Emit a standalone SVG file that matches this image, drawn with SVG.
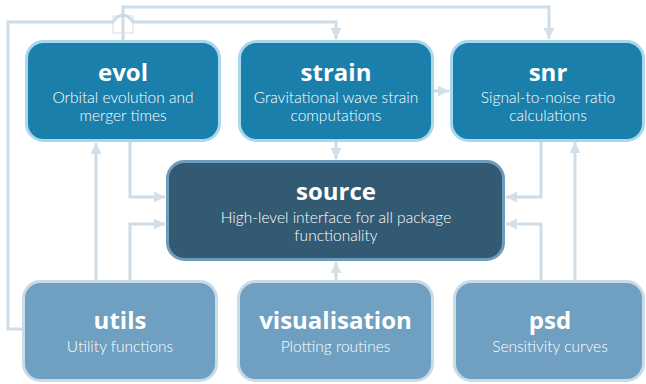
<svg xmlns="http://www.w3.org/2000/svg" width="646" height="384" viewBox="0 0 646 384">
<defs>
<marker id="arr" markerUnits="userSpaceOnUse" markerWidth="12" markerHeight="11" refX="11" refY="5.5" orient="auto">
<path d="M0,0 L11,5.5 L0,11 Z" fill="#d3e0ea"/>
</marker>
<style>
.top{fill:#1a7fab;stroke:#a7d8ee;stroke-width:3}
.mid{fill:#335a73;stroke:#6d9cbd;stroke-width:3}
.bot{fill:#6fa0c1;stroke:#c9dbe6;stroke-width:3}
.ttl{font-family:"Open Sans",Lato,sans-serif;font-weight:700;font-size:24px;fill:#fff;text-anchor:middle}
.sub{font-family:Lato,"Open Sans",sans-serif;font-weight:300;font-size:15.5px;fill:#fff;text-anchor:middle}
.ln{fill:none;stroke:#cddce7;stroke-width:3}
</style>
</defs>
<rect width="646" height="384" fill="#fff"/>
<g id="connectors">
<rect x="113" y="16" width="20" height="17" fill="#fff" stroke="#d9dde0" stroke-width="1"/>
<path class="ln" d="M123,41 V7 H549 V39" marker-end="url(#arr)"/>
<path class="ln" d="M22,329 H8 V22 H113 Q123,8 133,22 H336 V39" marker-end="url(#arr)"/>
<path class="ln" d="M130,141 V197 H165" marker-end="url(#arr)"/>
<path class="ln" d="M96,280 V143" marker-end="url(#arr)"/>
<path class="ln" d="M130,280 V224 H165" marker-end="url(#arr)"/>
<path class="ln" d="M336,141 V159" marker-end="url(#arr)"/>
<path class="ln" d="M434,91 H449" marker-end="url(#arr)"/>
<path class="ln" d="M541,141 V197 H506" marker-end="url(#arr)"/>
<path class="ln" d="M541,280 V224 H506" marker-end="url(#arr)"/>
<path class="ln" d="M575,280 V142" marker-end="url(#arr)"/>
<path class="ln" d="M336,280 V262" marker-end="url(#arr)"/>
</g>
<g id="evol">
<rect class="top" x="26.5" y="41.5" width="193" height="99" rx="17"/>
<text class="ttl" x="123" y="81">evol</text>
<text class="sub" x="123" y="103">Orbital evolution and</text>
<text class="sub" x="123" y="121">merger times</text>
</g>
<g id="strain">
<rect class="top" x="239.5" y="41.5" width="193" height="99" rx="17"/>
<text class="ttl" x="336" y="81">strain</text>
<text class="sub" x="336" y="103">Gravitational wave strain</text>
<text class="sub" x="336" y="121">computations</text>
</g>
<g id="snr">
<rect class="top" x="451.5" y="41.5" width="192" height="99" rx="17"/>
<text class="ttl" x="548" y="81">snr</text>
<text class="sub" x="548" y="103">Signal-to-noise ratio</text>
<text class="sub" x="548" y="121">calculations</text>
</g>
<g id="source">
<rect class="mid" x="167.5" y="161.5" width="336" height="98" rx="17"/>
<text class="ttl" x="336" y="200">source</text>
<text class="sub" x="336" y="223">High-level interface for all package</text>
<text class="sub" x="336" y="241">functionality</text>
</g>
<g id="utils">
<rect class="bot" x="23.5" y="281.5" width="193" height="99" rx="17"/>
<text class="ttl" x="120" y="329">utils</text>
<text class="sub" x="120" y="352">Utility functions</text>
</g>
<g id="visualisation">
<rect class="bot" x="238.5" y="281.5" width="194" height="99" rx="17"/>
<text class="ttl" x="335.5" y="329">visualisation</text>
<text class="sub" x="335.5" y="352">Plotting routines</text>
</g>
<g id="psd">
<rect class="bot" x="454.5" y="281.5" width="189" height="99" rx="17"/>
<text class="ttl" x="550" y="329">psd</text>
<text class="sub" x="550" y="352">Sensitivity curves</text>
</g>
</svg>
